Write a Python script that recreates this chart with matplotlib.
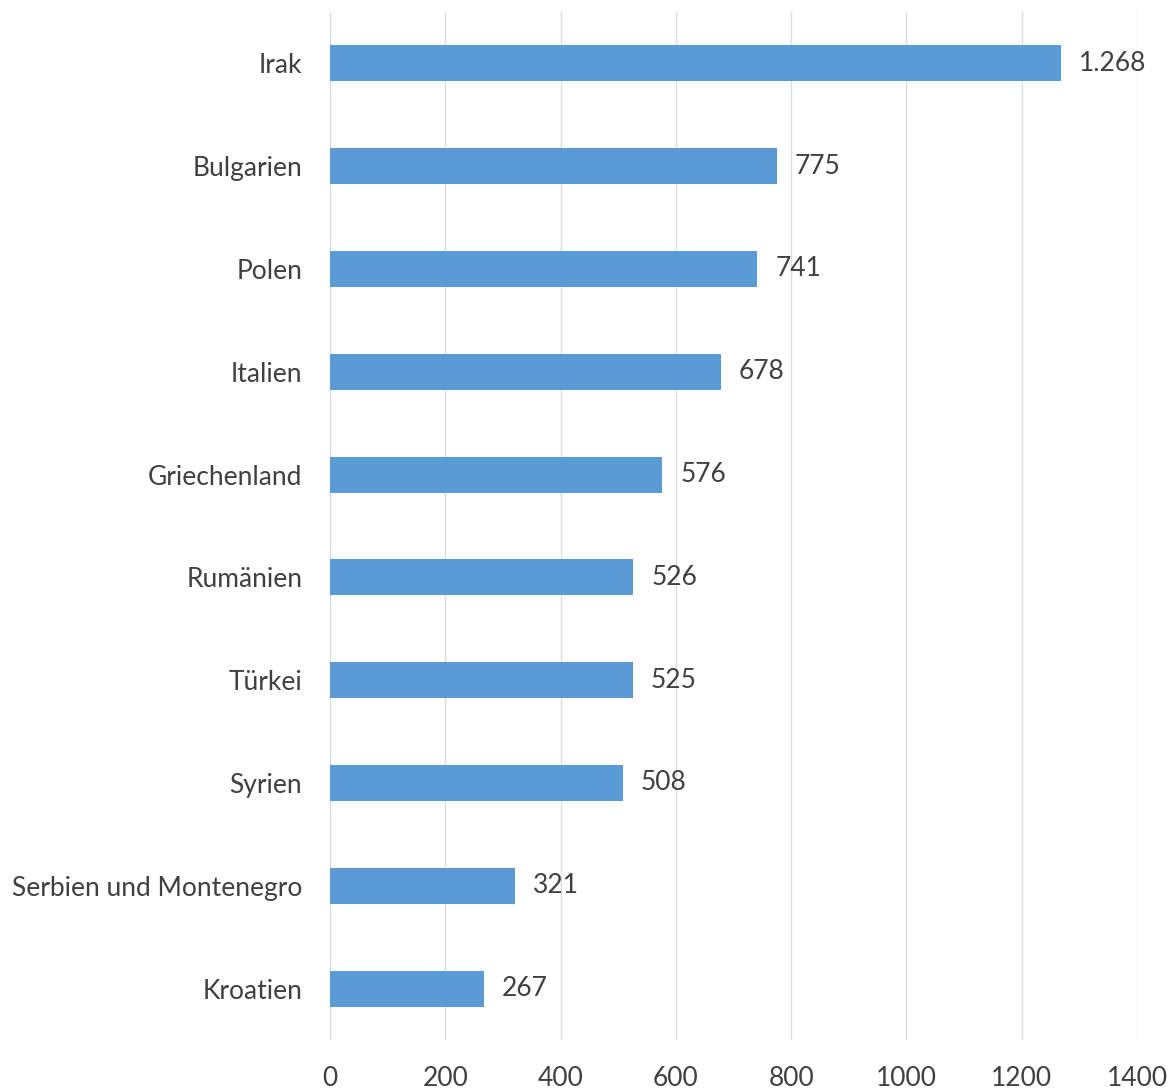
import matplotlib
matplotlib.use("Agg")
import matplotlib.pyplot as plt

# data, top to bottom as in the chart
laender = ["Irak", "Bulgarien", "Polen", "Italien", "Griechenland",
           "Rumänien", "Türkei", "Syrien", "Serbien und Montenegro", "Kroatien"]
werte = [1268, 775, 741, 678, 576, 526, 525, 508, 321, 267]
x_ticks = [0, 200, 400, 600, 800, 1000, 1200, 1400]

plt.rcParams['font.family'] = ['Lato', 'DejaVu Sans']
txt = '#404040'
fs = 19

fig = plt.figure(figsize=(11.74, 10.9), dpi=100)
ax = fig.add_axes([0.2811, 0.0459, 0.6874, 0.9431])

pos = list(range(len(laender)))
ax.barh(pos, werte, height=0.35, color='#5b9bd5', zorder=3)

for p, v in zip(pos, werte):
    lab = f"{v:,}".replace(",", ".")
    ax.annotate(lab, (v, p), xytext=(13, 0), textcoords='offset points',
                va='center', ha='left', fontsize=fs, color=txt)

ax.set_ylim(len(laender) - 0.5, -0.5)
ax.set_xlim(0, 1400)
ax.set_yticks(pos)
ax.set_yticklabels(laender, fontsize=fs, color=txt)
ax.set_xticks(x_ticks)
ax.set_xticklabels([str(t) for t in x_ticks], fontsize=fs, color=txt)
ax.tick_params(axis='both', length=0)
ax.tick_params(axis='x', pad=19)
ax.tick_params(axis='y', pad=20)

ax.grid(axis='x', color='#dcdcdc', linewidth=1.0, zorder=0)
for s in ax.spines.values():
    s.set_visible(False)

fig.savefig("out.png", dpi=100)
